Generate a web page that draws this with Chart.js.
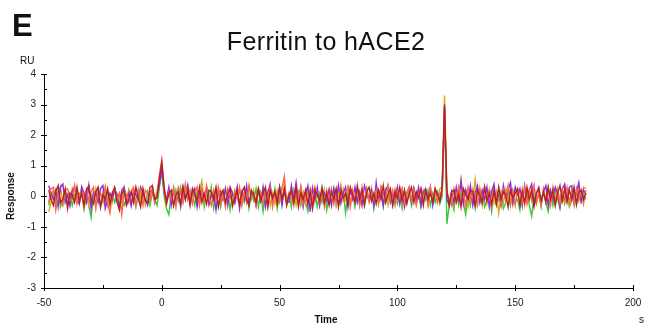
<!DOCTYPE html>
<html>
<head>
<meta charset="utf-8">
<script src="https://cdn.jsdelivr.net/npm/chart.js@4.4.1/dist/chart.umd.min.js"></script>
<style>
  html, body { margin: 0; padding: 0; background: #fff; }
  #wrap { position: relative; width: 648px; height: 327px; font-family: 'Liberation Sans', Arial, sans-serif; color: #111; }
  #chart { position: absolute; left: 0; top: 0; }
  .lbl { position: absolute; white-space: nowrap; line-height: 1; }
  #panel { left: 12px; top: 10px; font-size: 31px; font-weight: bold; }
  #title { left: 0; width: 652px; text-align: center; top: 29px; font-size: 25px; letter-spacing: 0.4px; }
  #ru { left: 20px; top: 56px; font-size: 10px; }
  #resp { left: 11px; top: 196px; font-size: 10px; font-weight: bold; transform: translate(-50%, -50%) rotate(-90deg); }
  #timeLbl { left: 326px; top: 315px; font-size: 10px; font-weight: bold; transform: translateX(-50%); }
  #sec { left: 639px; top: 315px; font-size: 10px; }
</style>
</head>
<body>
<div id="wrap">
  <canvas id="chart" width="648" height="327"></canvas>
  <div class="lbl" id="panel">E</div>
  <div class="lbl" id="title">Ferritin to hACE2</div>
  <div class="lbl" id="ru">RU</div>
  <div class="lbl" id="resp">Response</div>
  <div class="lbl" id="timeLbl">Time</div>
  <div class="lbl" id="sec">s</div>
</div>
<script>
// DATA (1 s steps)
const times = [
  -48,-47,-46,-45,-44,-43,-42,-41,-40,-39,
  -38,-37,-36,-35,-34,-33,-32,-31,-30,-29,
  -28,-27,-26,-25,-24,-23,-22,-21,-20,-19,
  -18,-17,-16,-15,-14,-13,-12,-11,-10,-9,
  -8,-7,-6,-5,-4,-3,-2,-1,0,1,
  2,3,4,5,6,7,8,9,10,11,
  12,13,14,15,16,17,18,19,20,21,
  22,23,24,25,26,27,28,29,30,31,
  32,33,34,35,36,37,38,39,40,41,
  42,43,44,45,46,47,48,49,50,51,
  52,53,54,55,56,57,58,59,60,61,
  62,63,64,65,66,67,68,69,70,71,
  72,73,74,75,76,77,78,79,80,81,
  82,83,84,85,86,87,88,89,90,91,
  92,93,94,95,96,97,98,99,100,101,
  102,103,104,105,106,107,108,109,110,111,
  112,113,114,115,116,117,118,119,120,121,
  122,123,124,125,126,127,128,129,130,131,
  132,133,134,135,136,137,138,139,140,141,
  142,143,144,145,146,147,148,149,150,151,
  152,153,154,155,156,157,158,159,160,161,
  162,163,164,165,166,167,168,169,170,171,
  172,173,174,175,176,177,178,179,180
];

const firebrick = [
  0.2,-0.1,-0.3,0.15,0.35,-0.2,-0.1,0.25,-0.4,0.1,
  0.05,-0.2,0.3,-0.15,0.1,-0.3,0.2,0.35,-0.1,-0.25,
  0.15,0.3,-0.35,0.05,-0.1,0.25,-0.25,0.1,0.3,-0.2,
  -0.45,0.1,0.2,-0.3,-0.1,0.15,-0.2,0.3,-0.05,-0.35,
  0.25,-0.15,-0.2,0.3,0.35,-0.1,-0.05,0.6,1.1,0.3,
  -0.2,0.1,0.2,-0.3,0.05,0.15,-0.25,0.3,-0.1,0.2,
  -0.3,0.25,0.05,-0.15,0.3,-0.2,0.1,-0.25,0.2,0.15,
  -0.1,0.3,-0.35,0.05,0.2,-0.2,0.1,0.25,-0.3,-0.05,
  0.2,-0.25,0.15,0.3,-0.1,-0.3,0.2,0.05,-0.2,0.25,
  -0.15,0.1,0.3,-0.35,0.2,-0.05,0.15,-0.25,0.3,-0.1,
  0.25,-0.3,0.05,0.15,-0.2,0.3,-0.35,0.1,-0.1,0.2,
  -0.25,0.15,-0.4,0.2,0.05,-0.15,0.3,-0.2,0.1,-0.3,
  0.15,-0.1,0.25,-0.35,0.2,-0.05,0.1,-0.25,0.3,0.05,
  -0.2,0.35,-0.1,0.2,-0.3,0.15,0.3,-0.15,0.1,-0.25,
  0.2,-0.1,0.35,-0.2,0.05,0.25,-0.3,0.15,-0.05,0.3,
  -0.15,0.2,-0.25,0.1,0.3,-0.2,0.15,-0.05,0.25,-0.3,
  0.2,-0.1,0.1,-0.2,0.25,0.05,-0.15,0.3,3.0,0.2,
  -0.3,0.15,0.2,-0.2,0.1,-0.35,0.25,0.05,-0.1,0.2,
  0.15,-0.3,0.2,0.05,-0.2,0.3,-0.15,0.1,-0.25,0.2,
  -0.25,0.3,-0.1,0.15,0.05,-0.35,0.2,-0.05,0.1,0.25,
  -0.3,0.15,-0.2,0.3,-0.1,0.2,-0.35,0.1,0.25,-0.15,
  0.15,-0.2,0.3,-0.1,0.2,-0.3,0.1,0.35,-0.15,0.25,
  -0.2,0.2,-0.1,0.3,-0.25,0.15,0.2,-0.1,0.1
];

const tomato = [
  -0.2,0.25,0.3,-0.45,0.1,-0.1,-0.3,0.2,0.25,-0.15,
  -0.1,0.35,-0.25,0.1,0.05,-0.4,0.2,-0.1,0.15,0.3,
  -0.4,0.2,0.1,-0.15,0.3,-0.2,-0.55,0.1,0.25,-0.1,
  0.1,-0.6,0.2,0.05,-0.2,0.15,0.3,-0.3,-0.1,0.2,
  -0.3,0.2,0.1,-0.1,0.3,-0.2,0.1,0.7,1.2,0.2,
  -0.3,0.15,-0.1,0.25,-0.35,0.3,0.1,-0.2,0.4,-0.1,
  0.2,-0.25,0.1,0.3,-0.3,0.2,-0.15,0.35,-0.05,-0.3,
  0.2,-0.1,0.3,-0.25,0.1,-0.35,0.25,0.05,-0.2,0.2,
  -0.1,0.3,-0.3,0.15,-0.2,0.35,-0.05,0.1,-0.3,0.25,
  0.1,-0.25,0.2,-0.1,0.3,-0.35,0.15,0.05,-0.2,0.25,
  0.65,-0.2,0.1,0.15,-0.3,0.2,-0.1,0.3,-0.25,0.1,
  -0.3,0.25,-0.15,0.3,0.05,-0.2,0.1,-0.35,0.2,-0.1,
  0.25,-0.25,0.1,-0.3,0.35,-0.15,0.05,0.3,-0.35,0.2,
  -0.1,0.2,-0.3,0.3,-0.15,0.25,-0.2,0.1,-0.1,0.2,
  -0.25,0.3,0.1,-0.2,0.35,-0.1,0.2,-0.3,0.15,-0.05,
  0.25,-0.2,0.1,0.3,-0.15,0.2,-0.3,0.05,0.25,-0.1,
  0.2,-0.3,0.3,-0.15,0.25,-0.2,0.1,0.1,2.8,0.1,
  -0.1,-0.3,0.25,-0.1,0.3,-0.2,0.1,-0.3,0.3,-0.15,
  0.2,0.1,-0.3,0.25,-0.2,0.3,-0.1,0.2,-0.35,0.1,
  -0.15,0.25,-0.3,0.2,-0.1,0.35,-0.25,0.15,-0.3,0.2,
  0.1,-0.2,0.3,-0.25,0.2,-0.1,0.35,-0.2,0.1,-0.3,
  0.25,-0.15,0.2,-0.3,0.3,-0.1,0.15,-0.25,0.2,-0.1,
  0.3,-0.2,0.15,-0.3,0.25,-0.15,0.2,-0.25,0.2
];

const purple = [
  0.35,0.1,-0.1,0.2,-0.35,0.3,0.4,-0.2,0.05,-0.3,
  0.2,0.3,-0.1,-0.25,0.3,0.1,-0.2,0.35,-0.4,0.15,
  0.1,-0.2,0.25,0.35,-0.4,-0.1,0.1,-0.1,0.25,0.05,
  -0.35,0.2,0.3,-0.2,0.1,-0.3,0.2,0.05,-0.1,0.3,
  0.1,-0.1,-0.3,0.15,0.2,-0.2,0.05,0.4,0.9,0.1,
  -0.1,0.3,-0.3,0.2,-0.2,0.1,-0.35,0.3,-0.1,0.35,
  -0.2,0.15,0.25,-0.35,0.1,0.2,-0.1,0.3,-0.25,0.05,
  0.1,-0.45,0.2,0.15,-0.1,0.25,-0.3,0.3,0.1,-0.2,
  0.3,-0.4,0.15,-0.1,0.35,-0.25,0.05,0.1,-0.3,0.2,
  -0.15,0.3,-0.35,0.1,0.4,-0.2,0.15,-0.1,0.3,-0.3,
  0.2,-0.2,-0.2,0.35,-0.1,0.45,-0.15,0.3,-0.35,0.1,
  0.35,-0.5,0.25,-0.1,0.3,-0.3,0.2,0.1,-0.15,0.2,
  -0.3,0.25,-0.1,0.35,-0.2,0.1,0.3,-0.35,0.2,-0.1,
  0.3,-0.2,0.15,-0.3,0.35,0.1,-0.1,0.2,-0.3,0.45,
  -0.15,0.25,-0.3,0.2,0.35,-0.2,0.1,-0.1,0.3,-0.25,
  0.2,-0.35,0.1,0.3,-0.2,0.25,-0.1,0.3,-0.3,0.15,
  0.25,-0.1,0.3,-0.3,0.2,0.1,-0.15,0.2,2.9,-0.1,
  -0.3,0.15,-0.2,0.3,-0.1,0.5,-0.25,0.2,-0.1,0.35,
  -0.3,0.1,0.35,-0.2,0.2,-0.1,0.3,-0.35,0.15,0.4,
  -0.2,0.1,-0.3,0.35,-0.1,0.2,0.45,-0.2,0.3,0.05,
  0.25,-0.3,0.35,-0.15,0.2,0.4,-0.25,0.1,0.3,-0.2,
  0.15,0.35,-0.3,0.2,-0.1,0.3,0.1,-0.35,0.25,0.4,
  -0.1,0.3,0.35,-0.2,0.1,0.45,-0.15,0.2,0.05
];

const green = [
  -0.3,0.1,0.15,-0.2,0.2,-0.35,-0.1,0.15,-0.25,0.1,
  -0.3,0.05,0.2,-0.2,0.15,-0.4,0.1,-0.3,-0.7,0.05,
  -0.25,0.2,-0.35,0.1,-0.2,0.15,-0.3,0.1,-0.2,0.05,
  -0.4,0.15,-0.3,-0.1,0.2,-0.25,0.05,-0.35,0.1,-0.2,
  0.1,-0.2,0.15,-0.3,0.1,-0.1,-0.3,0.3,0.8,0,
  -0.4,-0.6,0.1,-0.3,0.2,-0.15,0.3,-0.1,0.2,0.35,
  -0.2,0.1,-0.3,0.2,-0.1,0.25,-0.35,0.1,-0.2,0.3,
  -0.4,0.05,0.2,-0.35,0.1,-0.25,0.15,-0.45,0.1,-0.2,
  0.25,-0.3,0.05,-0.2,0.2,-0.4,0.1,-0.15,0.25,-0.35,
  0.1,-0.5,0.1,-0.3,0.2,-0.15,0.25,-0.4,0.1,-0.2,
  0.3,-0.25,0.1,-0.35,0.2,-0.1,0.15,-0.3,0.1,-0.2,
  -0.5,0.1,-0.25,0.15,-0.35,0.1,-0.2,0.2,-0.45,0.05,
  -0.2,0.25,-0.3,0.1,-0.15,0.2,-0.55,0.1,-0.25,0.15,
  -0.35,0.1,-0.2,0.2,-0.3,0.05,-0.15,0.25,-0.4,0.1,
  -0.2,0.15,-0.35,0.2,-0.1,0.1,-0.3,0.15,-0.25,0.05,
  -0.4,0.2,-0.15,0.1,-0.3,0.25,-0.2,0.05,-0.35,0.15,
  -0.1,0.2,-0.3,0.1,-0.2,0.15,-0.25,0,2.9,-0.9,
  -0.3,-0.1,-0.45,0.15,-0.3,0.1,-0.2,-0.6,0.1,-0.3,
  0.2,-0.4,0.05,-0.2,0.15,-0.35,-0.1,0.2,-0.5,0.1,
  -0.3,-0.1,0.15,-0.4,-0.2,0.1,-0.3,0.2,-0.15,-0.1,
  -0.45,0.1,-0.2,0.15,-0.3,-0.65,0.05,-0.25,0.1,-0.35,
  0.15,-0.2,-0.5,0.1,-0.3,0.2,-0.1,-0.4,0.05,-0.25,
  0.1,-0.35,-0.15,0.2,-0.3,0.1,-0.2,0.05,-0.1
];

const goldenrod = [
  -0.5,-0.2,0.2,0.1,-0.15,0.3,-0.2,0.1,0.05,-0.3,
  0.25,-0.1,0.15,-0.25,0.3,-0.1,0.2,-0.3,0.05,-0.2,
  0.25,-0.15,0.1,-0.2,0.3,-0.3,0.05,-0.2,0.25,-0.15,
  0.1,-0.2,0.3,-0.1,0.2,-0.3,0.1,-0.2,0.25,-0.1,
  0.2,-0.3,0.1,-0.15,0.25,-0.1,0.2,0.5,1.0,0.2,
  -0.2,0.2,-0.1,0.3,-0.25,0.1,0.2,-0.2,0.3,-0.1,
  0.15,-0.2,0.25,-0.1,0.2,0.5,-0.2,0.15,-0.3,0.1,
  -0.15,0.2,-0.3,0.2,-0.1,0.25,-0.2,0.1,-0.35,0.15,
  -0.05,0.2,-0.25,0.1,-0.2,0.3,-0.1,0.2,-0.3,0.15,
  -0.15,0.25,-0.2,0.15,-0.3,0.1,-0.25,0.2,-0.1,0.3,
  0.45,-0.2,0.1,-0.15,0.2,-0.3,0.1,-0.2,0.15,-0.25,
  0.2,-0.1,0.3,-0.2,0.15,-0.3,0.1,0.2,-0.15,0.25,
  -0.2,0.15,-0.3,0.1,-0.25,0.2,-0.1,0.3,-0.2,0.1,
  -0.15,0.2,-0.3,0.1,-0.2,0.25,-0.1,0.2,-0.25,0.15,
  -0.1,0.3,-0.2,0.1,-0.3,0.2,-0.15,0.25,-0.1,0.2,
  -0.3,0.1,-0.2,0.25,-0.1,0.2,-0.25,0.15,-0.2,0.2,
  0.1,-0.3,0.2,-0.15,0.1,-0.2,0.25,0.3,3.3,0.2,
  -0.2,0.1,-0.3,0.2,-0.15,0.55,-0.1,0.2,-0.35,0.1,
  -0.2,0.55,-0.1,0.2,-0.3,0.3,-0.25,0.1,0.2,-0.2,
  0.15,-0.55,0.1,-0.2,0.25,-0.1,0.2,-0.3,0.1,0.15,
  -0.2,0.25,-0.3,0.1,0.2,-0.15,0.3,-0.2,0.1,-0.25,
  0.2,-0.1,0.3,-0.2,0.15,-0.3,0.25,-0.1,0.2,-0.2,
  0.1,-0.3,0.2,0.15,-0.2,0.25,-0.1,0.3,0.25
];

// first entry ends up on top
const seriesList = [
  { values: firebrick, color: '#b22222' },
  { values: tomato,    color: '#ff6347' },
  { values: purple,    color: '#8a2be2' },
  { values: goldenrod, color: '#daa520' },
  { values: green,     color: '#32cd32' }
];

const xTicksMajor = [-50, 0, 50, 100, 150, 200];
const yTicksMajor = [-3, -2, -1, 0, 1, 2, 3, 4];

// small axis tick marks like the original software (major crossing, minor inside)
const tickMarks = {
  id: 'tickMarks',
  afterDraw(chart) {
    const { ctx, chartArea: a, scales: { x, y } } = chart;
    ctx.save();
    ctx.strokeStyle = '#000';
    ctx.lineWidth = 1;
    ctx.beginPath();
    for (let v = -3; v <= 4; v += 0.5) {
      const py = Math.round(y.getPixelForValue(v)) + 0.5;
      const major = Number.isInteger(v);
      ctx.moveTo(a.left - (major ? 3 : 0), py);
      ctx.lineTo(a.left + 3, py);
    }
    for (let v = -50; v <= 200; v += 25) {
      const px = Math.round(x.getPixelForValue(v)) + 0.5;
      const major = v % 50 === 0;
      ctx.moveTo(px, a.bottom + (major ? 3 : 0));
      ctx.lineTo(px, a.bottom - 3);
    }
    ctx.stroke();
    ctx.restore();
  }
};

new Chart(document.getElementById('chart'), {
  type: 'line',
  data: {
    datasets: seriesList.map(s => ({
      data: times.map((t, i) => ({ x: t, y: s.values[i] })),
      borderColor: s.color,
      borderWidth: 1.4,
      pointRadius: 0,
      tension: 0,
      fill: false
    }))
  },
  options: {
    responsive: false,
    animation: false,
    devicePixelRatio: 1,
    layout: { padding: { top: 74, right: 15, left: 0, bottom: 0 } },
    plugins: { legend: { display: false }, tooltip: { enabled: false } },
    scales: {
      x: {
        type: 'linear',
        min: -50,
        max: 200,
        afterFit: s => { s.height = 39; s.paddingLeft = 0; s.paddingRight = 0; },
        afterBuildTicks: s => { s.ticks = xTicksMajor.map(v => ({ value: v })); },
        grid: { display: false, drawTicks: false },
        border: { display: true, color: '#000', width: 1 },
        ticks: { color: '#222', padding: 9, maxRotation: 0, font: { family: 'Liberation Sans', size: 10 } }
      },
      y: {
        min: -3,
        max: 4,
        afterFit: s => { s.width = 44; s.paddingTop = 0; s.paddingBottom = 0; },
        afterBuildTicks: s => { s.ticks = yTicksMajor.map(v => ({ value: v })); },
        grid: { display: false, drawTicks: false },
        border: { display: true, color: '#000', width: 1 },
        ticks: { color: '#222', padding: 8, font: { family: 'Liberation Sans', size: 10 } }
      }
    }
  },
  plugins: [tickMarks]
});
</script>
</body>
</html>
